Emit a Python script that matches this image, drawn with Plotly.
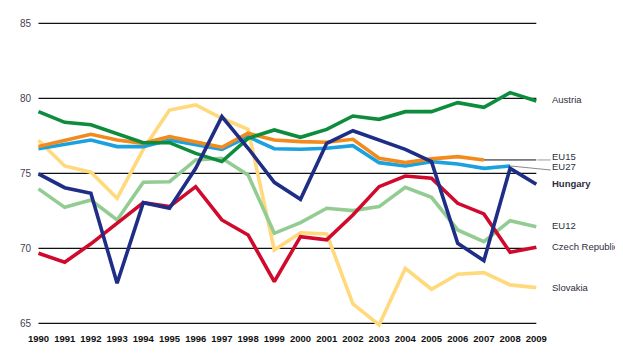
import plotly.graph_objects as go

years = list(range(1990, 2010))

austria = [79.11, 78.4, 78.24, 77.67, 77.04, 77.04, 76.33, 75.78, 77.33, 77.89,
           77.4, 77.93, 78.82, 78.6, 79.11, 79.11, 79.71, 79.4, 80.38, 79.82]
eu15 = [76.78, 77.22, 77.6, 77.22, 77.0, 77.44, 77.07, 76.73, 77.67, 77.22,
        77.11, 77.07, 77.27, 76.0, 75.71, 75.96, 76.11, 75.89, None, None]
eu27 = [76.64, 76.93, 77.22, 76.78, 76.78, 77.22, 76.93, 76.6, 77.44, 76.64,
        76.6, 76.67, 76.84, 75.71, 75.49, 75.78, 75.62, 75.33, 75.49, None]
hungary = [74.96, 74.04, 73.67, 67.67, 73.04, 72.67, 75.33, 78.78, 76.67, 74.4,
           73.27, 77.0, 77.84, 77.22, 76.6, 75.78, 70.33, 69.18, 75.33, 74.27]
eu12 = [73.96, 72.73, 73.22, 71.89, 74.4, 74.44, 75.89, 76.0, 74.89, 71.0,
        71.71, 72.67, 72.51, 72.78, 74.07, 73.4, 71.22, 70.44, 71.84, 71.44]
czech = [69.67, 69.07, 70.3, 71.65, 73.04, 72.78, 74.11, 71.89, 70.89, 67.78,
         70.78, 70.56, 72.22, 74.11, 74.82, 74.67, 73.0, 72.29, 69.73, 70.07]
slovakia = [77.2, 75.49, 75.07, 73.33, 76.6, 79.22, 79.56, 78.67, 77.93, 69.89,
            71.04, 70.96, 66.29, 64.89, 68.67, 67.27, 68.27, 68.38, 67.56, 67.38]

y_ticks = [65, 70, 75, 80, 85]

FONT = "Liberation Sans, Arial, sans-serif"
TXT = "#2e2e40"

series = [
    ("Slovakia", slovakia, "#FFD97C"),
    ("EU12", eu12, "#93CC93"),
    ("EU27", eu27, "#1BA1DE"),
    ("EU15", eu15, "#F28A1E"),
    ("Czech Republic", czech, "#CF0A2C"),
    ("Austria", austria, "#0C8C3C"),
    ("Hungary", hungary, "#1E2D86"),
]

fig = go.Figure()

# grid lines drawn between first and last year
for t in y_ticks:
    fig.add_shape(type="line", x0=years[0], x1=years[-1], y0=t, y1=t,
                  xref="x", yref="y", line=dict(color="#111111", width=1.2), layer="below")

# leader lines for EU15 / EU27 labels
last15 = max(i for i, v in enumerate(eu15) if v is not None)
last27 = max(i for i, v in enumerate(eu27) if v is not None)
label_x = years[-1] + 0.55
fig.add_trace(go.Scatter(x=[years[last15], years[-1]], y=[eu15[last15]] * 2, mode="lines",
                         line=dict(color="#111111", width=1), hoverinfo="skip", showlegend=False))
fig.add_trace(go.Scatter(x=[years[-1] + 0.05, label_x], y=[eu15[last15]] * 2, mode="lines",
                         line=dict(color="#999999", width=1), hoverinfo="skip", showlegend=False))
fig.add_trace(go.Scatter(x=[years[last27], label_x], y=[eu27[last27], 75.22], mode="lines",
                         line=dict(color="#8a8a8a", width=1), hoverinfo="skip", showlegend=False))

for name, vals, col in series:
    fig.add_trace(go.Scatter(x=years, y=vals, mode="lines", name=name,
                             line=dict(color=col, width=3.6), showlegend=False))

labels = [
    ("Austria", austria[-1] + 0.07, False),
    ("EU15", 76.15, False),
    ("EU27", 75.45, False),
    ("Hungary", hungary[-1] + 0.06, True),
    ("EU12", eu12[-1] + 0.05, False),
    ("Czech Republic", czech[-1] + 0.08, False),
    ("Slovakia", slovakia[-1], False),
]
for text, yv, bold in labels:
    fig.add_annotation(x=years[-1], y=yv, xref="x", yref="y", text=text, showarrow=False,
                       xanchor="left", yanchor="middle", xshift=14,
                       font=dict(family=FONT, size=9.5, color=TXT,
                                 weight="bold" if bold else "normal"))

# page body adds an 8px offset; size compensates so the chart fills the 623x356 window
fig.update_layout(
    width=615, height=348,
    margin=dict(l=24, r=8, t=6, b=25, autoexpand=False),
    paper_bgcolor="white", plot_bgcolor="white",
    xaxis=dict(range=[1989.752, 2012.004], tickvals=years, ticktext=[str(y) for y in years],
               showgrid=False, zeroline=False, showline=False, ticks="", tickangle=0,
               automargin=False,
               tickfont=dict(family=FONT, size=9.5, color="#111111", weight="bold")),
    yaxis=dict(range=[64.487, 85.62], tickvals=y_ticks, showgrid=False, zeroline=False,
               showline=False, ticks="", automargin=False,
               tickfont=dict(family=FONT, size=10, color="#4a4050")),
)

fig.write_html("out.html")
